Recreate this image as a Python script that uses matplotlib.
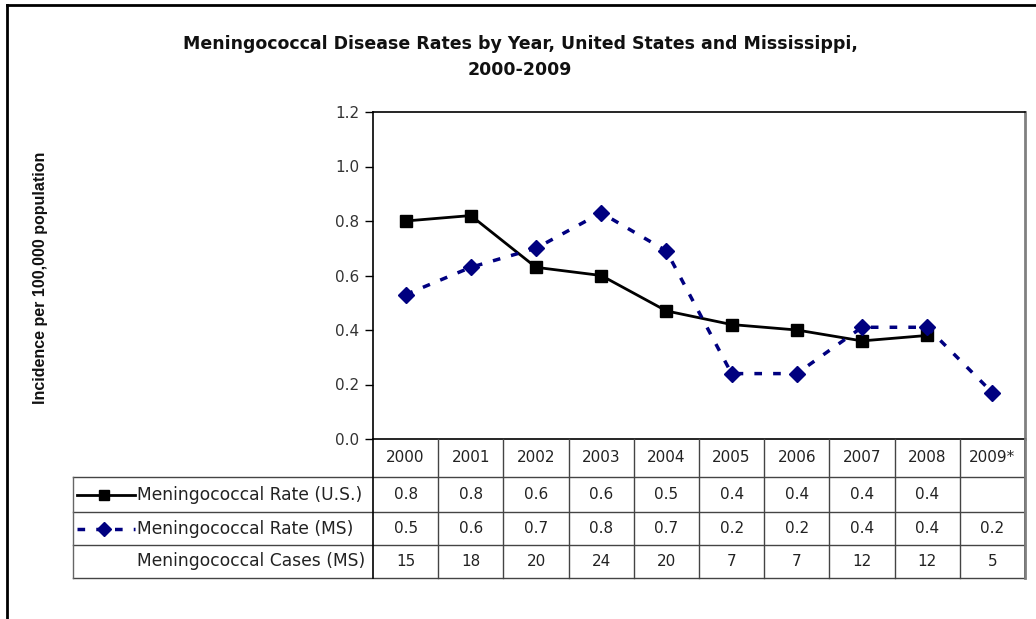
import matplotlib
matplotlib.use("Agg")
import matplotlib.pyplot as plt
import matplotlib.transforms as mtransforms
import numpy as np

years = ["2000", "2001", "2002", "2003", "2004", "2005", "2006", "2007", "2008", "2009*"]
us_rate = [0.80, 0.82, 0.63, 0.60, 0.47, 0.42, 0.40, 0.36, 0.38, np.nan]
ms_rate = [0.53, 0.63, 0.70, 0.83, 0.69, 0.24, 0.24, 0.41, 0.41, 0.17]
ms_cases = [15, 18, 20, 24, 20, 7, 7, 12, 12, 5]
yticks = [0.0, 0.2, 0.4, 0.6, 0.8, 1.0, 1.2]
row_labels = ["Meningococcal Rate (U.S.)", "Meningococcal Rate (MS)", "Meningococcal Cases (MS)"]
title = "Meningococcal Disease Rates by Year, United States and Mississippi,\n2000-2009"
ylabel = "Incidence per 100,000 population"

W, H = 1036, 619
fig = plt.figure(figsize=(W / 100, H / 100), dpi=100)
fig.patch.set_facecolor("white")

TXT = ["DejaVu Sans"]
NAVY = "#000080"
TC = "#222222"

def fx(x):
    return x / W

def fy(y):
    return 1 - y / H

# plot area in pixels
L, R, T, B = 373, 1025, 112, 439
ax = fig.add_axes([fx(L), fy(B), fx(R - L), (B - T) / H])
x = np.arange(len(years))
ax.plot(x, us_rate, color="black", lw=2, marker="s", ms=9, mfc="black", mec="black", zorder=3)
ax.plot(x, ms_rate, color=NAVY, lw=2.5, ls=(0, (2.2, 3.2)), marker="D", ms=8.5, mfc=NAVY, mec=NAVY, zorder=4)
ax.set_xlim(-0.5, len(years) - 0.5)
ax.set_ylim(0, 1.2)
ax.set_yticks(yticks)
ax.set_yticklabels([f"{v:.1f}" for v in yticks], fontsize=11, color="#333333", family=TXT)
ax.tick_params(axis="y", direction="out", length=6, width=1, pad=4, color="black")
ax.set_xticks([])
for s in ["left", "top", "bottom"]:
    ax.spines[s].set_color("black")
    ax.spines[s].set_linewidth(1.2)
ax.spines["right"].set_color("#808080")
ax.spines["right"].set_linewidth(2)

ov2 = fig.add_axes([0, 0, 1, 1], zorder=5)
ov2.set_xlim(0, W)
ov2.set_ylim(H, 0)
ov2.axis("off")
ov2.patch.set_alpha(0)

blend = mtransforms.blended_transform_factory(ax.transData, ov2.transData)

row_y = [439, 477, 512, 545, 578]
lab_left = 73
for yy in row_y[1:]:
    ov2.plot([lab_left, R], [yy, yy], color="#444444", lw=1)
for k in range(len(years) + 1):
    xx = k - 0.5
    inner = 0 < k < len(years)
    ov2.plot([xx, xx], [row_y[0], row_y[-1]], color="#444444" if inner else "black",
             lw=1 if inner else 1.2, transform=blend)
ov2.plot([lab_left, lab_left], [row_y[1], row_y[-1]], color="#666666", lw=1)
ov2.plot([R, R], [row_y[0], row_y[-1]], color="#808080", lw=2)

def cy(r):
    return (row_y[r] + row_y[r + 1]) / 2

FS = 11
for i, yr in enumerate(years):
    ov2.text(i, cy(0), yr, transform=blend, ha="center", va="center", fontsize=FS, family=TXT, color=TC)
    if not np.isnan(us_rate[i]):
        ov2.text(i, cy(1), f"{us_rate[i]:.1f}", transform=blend, ha="center", va="center", fontsize=FS, family=TXT, color=TC)
    ov2.text(i, cy(2), f"{ms_rate[i]:.1f}", transform=blend, ha="center", va="center", fontsize=FS, family=TXT, color=TC)
    ov2.text(i, cy(3), f"{ms_cases[i]}", transform=blend, ha="center", va="center", fontsize=FS, family=TXT, color=TC)

for r, lab in enumerate(row_labels):
    ov2.text(137, cy(r + 1), lab, ha="left", va="center", fontsize=12.3, family=TXT, color=TC)
ov2.plot([77, 135], [cy(1), cy(1)], color="black", lw=2)
ov2.plot([104], [cy(1)], marker="s", ms=7, color="black")
ov2.plot([77, 135], [cy(2), cy(2)], color=NAVY, lw=2.5, ls=(0, (2.2, 3.2)))
ov2.plot([104], [cy(2)], marker="D", ms=7.5, color=NAVY)

# outer frame
ov2.plot([7, 7], [5, H], color="black", lw=2)
ov2.plot([7, W], [5, 5], color="black", lw=2)

fig.text(fx(520), fy(57), title, ha="center", va="center", fontsize=12.5, fontweight="bold",
         family=TXT, linespacing=1.6, color="#111111")
fig.text(fx(41), fy(278), ylabel, rotation=90, ha="center", va="center", fontsize=11.5,
         fontweight="bold", family=["Liberation Sans", "DejaVu Sans"], color="#111111")

fig.savefig("out.png", dpi=100, facecolor="white")
